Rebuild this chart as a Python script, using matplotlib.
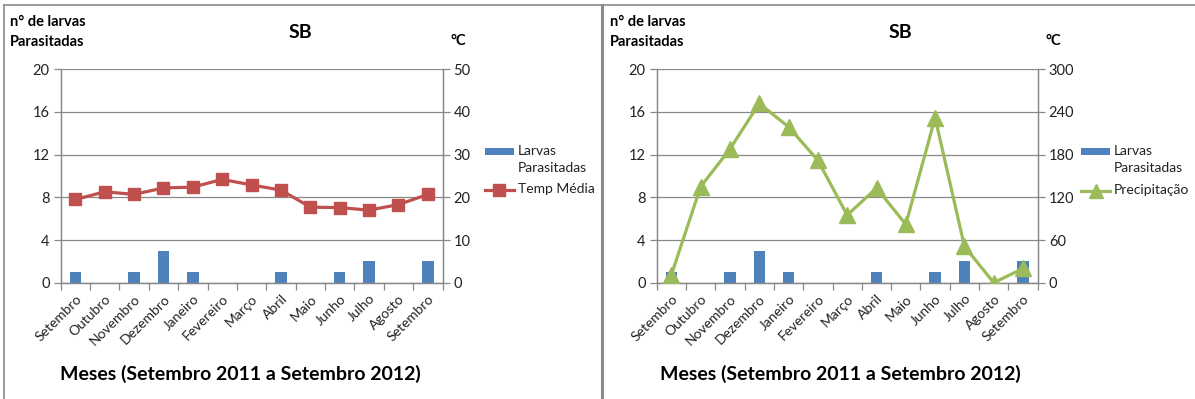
import matplotlib
matplotlib.use("Agg")
import matplotlib.pyplot as plt
from matplotlib.lines import Line2D
from matplotlib.patches import Rectangle

plt.rcParams['font.family'] = ['Lato', 'DejaVu Sans']

# Data
months = ["Setembro", "Outubro", "Novembro", "Dezembro", "Janeiro", "Fevereiro",
          "Março", "Abril", "Maio", "Junho", "Julho", "Agosto", "Setembro"]
larvas = [1, 0, 1, 3, 1, 0, 0, 1, 0, 1, 2, 0, 2]
temp_media = [19.5, 21.3, 20.7, 22.2, 22.4, 24.2, 22.9, 21.7, 17.7, 17.6, 17.0, 18.3, 20.7]
precipitacao = [11, 135, 188, 252, 219, 172, 95, 133, 82, 232, 51, 0, 20]

left_ticks = [0, 4, 8, 12, 16, 20]
temp_ticks = [0, 10, 20, 30, 40, 50]
prec_ticks = [0, 60, 120, 180, 240, 300]

BAR = "#4F81BD"
RED = "#C0504D"
GREEN = "#9BBB59"
GRID = "#888888"
TXT = "#222222"

W, H = 1195, 399
fig = plt.figure(figsize=(W / 100, H / 100), dpi=100)


def fx(x):
    return x / W


def fy(y):
    return 1 - y / H


def px_axes(x0, x1, ytop, ybot):
    return fig.add_axes([fx(x0), fy(ybot), (x1 - x0) / W, (ybot - ytop) / H])


def style_spines(a):
    a.spines['top'].set_visible(False)
    for s in ['left', 'right', 'bottom']:
        a.spines[s].set_color(GRID)
        a.spines[s].set_linewidth(0.9)


def panel(ox, x0, x1, right_series, right_ticks, color, marker, msize, label,
          leg_x, leg_line_y):
    ax = px_axes(x0, x1, 69.3, 282.7)
    n = len(months)
    xs = list(range(n))
    ax.bar(xs, larvas, width=0.39, color=BAR, zorder=2)
    ax.set_xlim(-0.5, n - 0.5)
    ax.set_ylim(0, 20)
    ax.set_yticks(left_ticks)
    ax.yaxis.grid(True, color=GRID, lw=0.9, zorder=0)
    ax.set_axisbelow(True)
    ax.set_xticks(xs)
    ax.set_xticklabels(months, rotation=45, ha='right', va='top',
                       rotation_mode='anchor', fontsize=10, color=TXT)
    ax.set_xticks([i - 0.5 for i in range(n + 1)], minor=True)
    ax.tick_params(axis='x', which='major', length=0, pad=7)
    ax.tick_params(axis='x', which='minor', length=5, color=GRID, width=0.9)
    ax.tick_params(axis='y', length=5, color=GRID, width=0.9, labelsize=10.5,
                   labelcolor=TXT, pad=3)
    style_spines(ax)

    ax2 = ax.twinx()
    ax2.plot(xs, right_series, color=color, lw=2.3, marker=marker,
             markersize=msize, markerfacecolor=color, markeredgecolor=color,
             zorder=3)
    ax2.set_ylim(right_ticks[0], right_ticks[-1])
    ax2.set_yticks(right_ticks)
    ax2.tick_params(axis='y', length=5, color=GRID, width=0.9, labelsize=10.5,
                    labelcolor=TXT, pad=3)
    style_spines(ax2)

    # Legend: bar swatch and line sample with their labels
    fig.add_artist(Rectangle((fx(leg_x), fy(154.5)), 29 / W, 7 / H,
                             facecolor=BAR, edgecolor='none',
                             transform=fig.transFigure))
    fig.text(fx(leg_x + 33), fy(151), "Larvas", fontsize=10, color=TXT,
             ha='left', va='center')
    fig.text(fx(leg_x + 33), fy(168), "Parasitadas", fontsize=10, color=TXT,
             ha='left', va='center')
    fig.add_artist(Line2D([fx(leg_x), fx(leg_x + 29)],
                          [fy(leg_line_y), fy(leg_line_y)], color=color,
                          lw=2.3, transform=fig.transFigure))
    fig.add_artist(Line2D([fx(leg_x + 14.5)], [fy(leg_line_y)], color=color,
                          marker=marker, markersize=msize - 1, linestyle='none',
                          markerfacecolor=color, markeredgecolor=color,
                          transform=fig.transFigure))
    fig.text(fx(leg_x + 33), fy(leg_line_y - 1), label, fontsize=10, color=TXT,
             ha='left', va='center')

    # Panel texts
    fig.text(fx(ox + 10), fy(22), "n° de larvas", fontsize=10.5,
             fontweight='bold', ha='left', va='center', color="black")
    fig.text(fx(ox + 10), fy(42), "Parasitadas", fontsize=10.5,
             fontweight='bold', ha='left', va='center', color="black")
    fig.text(fx(ox + 300), fy(32), "SB", fontsize=14, fontweight='bold',
             ha='center', va='center', color="black")
    fig.text(fx(x1 + 16), fy(41), "°C", fontsize=10.5, fontweight='bold',
             ha='center', va='center', color="black")
    fig.text(fx(ox + 240), fy(374), "Meses (Setembro 2011 a Setembro 2012)",
             fontsize=14, fontweight='bold', ha='center', va='center',
             color="black")


panel(0, 60.7, 442.5, temp_media, temp_ticks, RED, 's', 9, "Temp Média",
      484.5, 190)
panel(600, 656.7, 1037.7, precipitacao, prec_ticks, GREEN, '^', 11,
      "Precipitação", 1081, 191)

# Panel frames
frame = dict(color="#8a8a8a", lw=1.2, transform=fig.transFigure)
fig.add_artist(Line2D([fx(3.5), fx(3.5)], [0, fy(5)], **frame))
fig.add_artist(Line2D([fx(3.5), 1], [fy(5), fy(5)], **frame))
fig.add_artist(Line2D([fx(601.5), fx(601.5)], [0, fy(5)],
                      color="#8a8a8a", lw=2.2, transform=fig.transFigure))

fig.savefig("out.png", dpi=100)
